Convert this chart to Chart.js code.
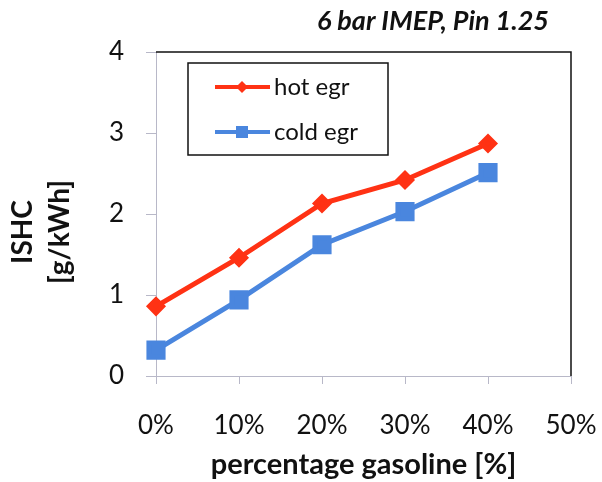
<!DOCTYPE html>
<html>
<head>
<meta charset="utf-8">
<script src="https://cdn.jsdelivr.net/npm/chart.js@4.4.1/dist/chart.umd.min.js"></script>
<style>
  html, body { margin: 0; padding: 0; background: #fff; }
  #wrap { width: 602px; height: 482px; }
</style>
</head>
<body>
<div id="wrap"><canvas id="chart" width="602" height="482"></canvas></div>
<script>
const xLabels = ['0%', '10%', '20%', '30%', '40%', '50%'];
const hotEgr = [0.86, 1.46, 2.13, 2.42, 2.87];
const coldEgr = [0.32, 0.94, 1.62, 2.03, 2.51];
const yTicks = [0, 1, 2, 3, 4];
const chartTitle = '6 bar IMEP, Pin 1.25';
const xTitle = 'percentage gasoline [%]';
const yTitle = ['ISHC', '[g/kWh]'];

const FONT = 'Lato, "Open Sans", sans-serif';

// frame, boxed legend and the titles
const framePlugin = {
  id: 'frame',
  afterDraw(chart) {
    const { ctx, chartArea: a } = chart;
    ctx.save();
    ctx.strokeStyle = '#111';
    ctx.lineWidth = 1.5;
    ctx.beginPath();
    ctx.moveTo(a.left, a.top);
    ctx.lineTo(a.right, a.top);
    ctx.lineTo(a.right, a.bottom);
    ctx.stroke();

    // legend box
    const bx = 188, by = 63, bw = 200, bh = 92;
    ctx.lineWidth = 1.5;
    ctx.strokeRect(bx, by, bw, bh);
    chart.data.datasets.forEach((ds, i) => {
      const y = by + 24 + i * 45;
      ctx.strokeStyle = ds.borderColor;
      ctx.lineWidth = 4;
      ctx.beginPath();
      ctx.moveTo(bx + 27, y);
      ctx.lineTo(bx + 82, y);
      ctx.stroke();
      ctx.fillStyle = ds.backgroundColor;
      const cx = bx + 54;
      if (ds.pointStyle === 'rectRot') {
        ctx.beginPath();
        ctx.moveTo(cx, y - 6); ctx.lineTo(cx + 6, y); ctx.lineTo(cx, y + 6); ctx.lineTo(cx - 6, y);
        ctx.closePath(); ctx.fill();
      } else {
        ctx.fillRect(cx - 6, y - 6, 12, 12);
      }
      ctx.fillStyle = '#111';
      ctx.font = '24px ' + FONT;
      ctx.textBaseline = 'middle';
      ctx.textAlign = 'left';
      ctx.fillText(ds.label, bx + 86, y);
    });

    ctx.fillStyle = '#111';
    // chart title
    ctx.font = 'italic bold 27px ' + FONT;
    ctx.textAlign = 'right';
    ctx.textBaseline = 'alphabetic';
    ctx.fillText(chartTitle, 549, 30);

    // x title
    ctx.font = 'bold 29px ' + FONT;
    ctx.textAlign = 'center';
    ctx.fillText(xTitle, (a.left + a.right) / 2, 474);

    // y title, two lines rotated
    ctx.translate(0, 232);
    ctx.rotate(-Math.PI / 2);
    ctx.font = 'bold 28px ' + FONT;
    ctx.textAlign = 'center';
    ctx.textBaseline = 'alphabetic';
    ctx.fillText(yTitle[0], 0, 32);
    ctx.fillText(yTitle[1], 0, 69);
    ctx.restore();
  }
};

new Chart(document.getElementById('chart'), {
  type: 'line',
  data: {
    labels: xLabels,
    datasets: [
      {
        label: 'hot egr',
        data: hotEgr,
        borderColor: '#ff3214',
        backgroundColor: '#ff3214',
        borderWidth: 5,
        pointStyle: 'rectRot',
        pointRadius: 6.5,
        pointHoverRadius: 6.5
      },
      {
        label: 'cold egr',
        data: coldEgr,
        borderColor: '#4a86de',
        backgroundColor: '#4a86de',
        borderWidth: 5,
        pointStyle: 'rect',
        pointRadius: 10,
        pointHoverRadius: 10
      }
    ]
  },
  options: {
    responsive: false,
    animation: false,
    layout: { padding: { top: 52, right: 31, bottom: 0, left: 0 } },
    plugins: {
      legend: { display: false },
      tooltip: { enabled: false },
      title: { display: false }
    },
    scales: {
      x: {
        type: 'category',
        offset: false,
        afterFit(scale) {
          scale.height = 106;
          scale.paddingLeft = 0;
          scale.paddingRight = 0;
        },
        grid: { drawOnChartArea: false, drawTicks: true, tickLength: 8, color: '#b8b8c8' },
        border: { color: '#b8b8c8', width: 1 },
        ticks: { color: '#111', font: { family: FONT, size: 26 }, padding: 26, maxRotation: 0 }
      },
      y: {
        min: 0,
        max: 4,
        afterBuildTicks(scale) { scale.ticks = yTicks.map((v) => ({ value: v })); },
        afterFit(scale) { scale.width = 156; },
        grid: { drawOnChartArea: false, drawTicks: true, tickLength: 10, color: '#b8b8c8' },
        border: { color: '#b8b8c8', width: 1 },
        ticks: { color: '#111', font: { family: FONT, size: 26 }, padding: 22 }
      }
    }
  },
  plugins: [framePlugin]
});
</script>
</body>
</html>
